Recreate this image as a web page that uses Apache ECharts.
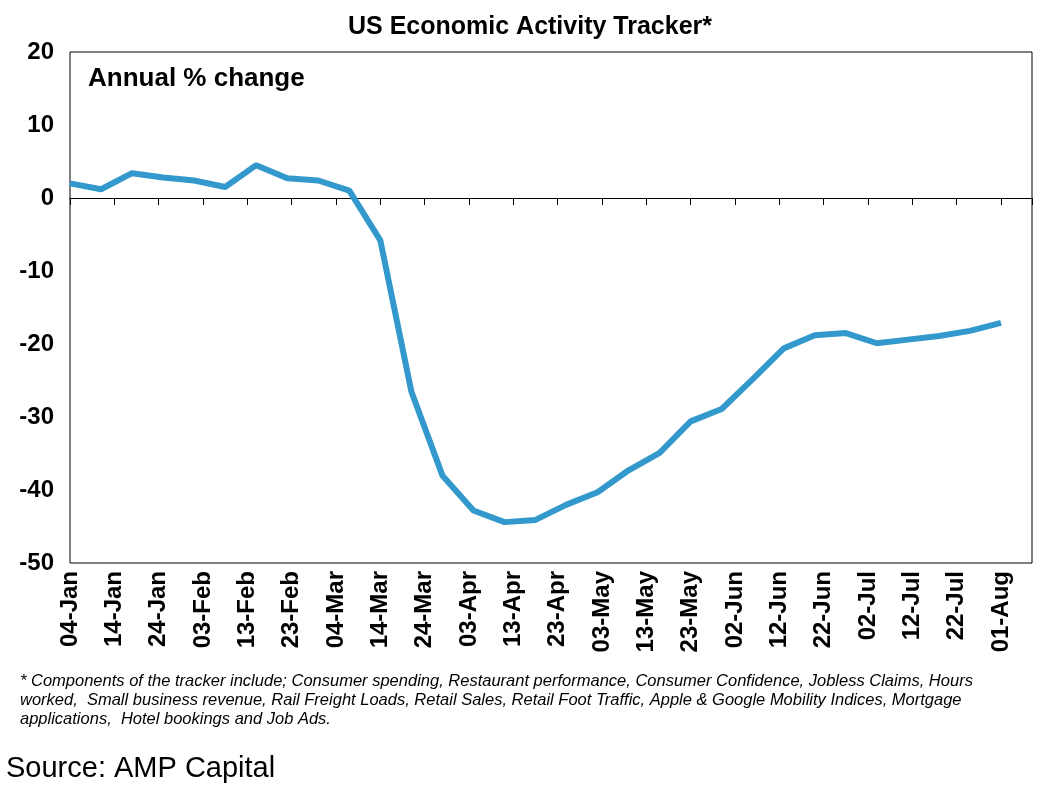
<!DOCTYPE html><html><head><meta charset="utf-8">
<script src="https://cdn.jsdelivr.net/npm/echarts@6/dist/echarts.min.js"></script>
<style>body{margin:0}#c{width:1060px;height:787px}</style></head><body><div id="c"></div>
<script>
const tickLabels=['04-Jan','14-Jan','24-Jan','03-Feb','13-Feb','23-Feb','04-Mar','14-Mar','24-Mar','03-Apr','13-Apr','23-Apr','03-May','13-May','23-May','02-Jun','12-Jun','22-Jun','02-Jul','12-Jul','22-Jul','01-Aug'];
const weekValues=[2.0,1.2,3.4,2.8,2.4,1.5,4.5,2.7,2.4,1.0,-5.8,-26.5,-38.0,-42.8,-44.4,-44.1,-42.0,-40.3,-37.3,-34.9,-30.6,-28.9,-24.8,-20.6,-18.8,-18.5,-19.9,-19.4,-18.9,-18.2,-17.1];
const data=weekValues.map((v,i)=>[i*7,v]);
const F='Arial, Liberation Sans, sans-serif';
const ch=echarts.init(document.getElementById('c'));
ch.setOption({
 animation:false,
 title:{text:'US Economic Activity Tracker*',left:'center',top:10,textStyle:{fontFamily:F,fontSize:25,fontWeight:'bold',color:'#000'}},
 graphic:[
  {type:'text',left:88,top:66,style:{text:'Annual % change',font:'bold 26px '+F,fill:'#000'}},
  {type:'text',left:20,top:672,style:{text:'* Components of the tracker include; Consumer spending, Restaurant performance, Consumer Confidence, Jobless Claims, Hours\nworked,  Small business revenue, Rail Freight Loads, Retail Sales, Retail Foot Traffic, Apple & Google Mobility Indices, Mortgage\napplications,  Hotel bookings and Job Ads.',font:'italic 16.5px '+F,fill:'#000',lineHeight:19}},
  {type:'text',left:6,top:754,style:{text:'Source: AMP Capital',font:'29px '+F,fill:'#000'}}
 ],
 grid:{left:70,right:28,top:52,bottom:224,show:true,borderColor:'#000',borderWidth:1},
 xAxis:[
  {type:'value',min:0,max:217,interval:10,position:'bottom',axisLine:{onZero:false,show:false},axisTick:{show:false},splitLine:{show:false},
   axisLabel:{rotate:90,fontFamily:F,fontSize:24,fontWeight:'bold',color:'#000',margin:8,showMaxLabel:false,formatter:v=>v%10===0?tickLabels[v/10]:''}},
  {type:'value',min:0,max:217,interval:10,gridIndex:0,position:'bottom',axisLine:{onZero:true,lineStyle:{color:'#000',width:1}},axisTick:{show:true,length:7,lineStyle:{color:'#000'}},axisLabel:{show:false},splitLine:{show:false}}
 ],
 yAxis:{type:'value',min:-50,max:20,interval:10,axisLine:{show:false},axisTick:{show:false},splitLine:{show:false},
  axisLabel:{fontFamily:F,fontSize:24,fontWeight:'bold',color:'#000',margin:16}},
 series:[{type:'line',xAxisIndex:0,data:data,symbol:'none',lineStyle:{color:'#3399cc',width:6}},
  {type:'line',xAxisIndex:1,data:[],symbol:'none'}]
});
</script></body></html>
